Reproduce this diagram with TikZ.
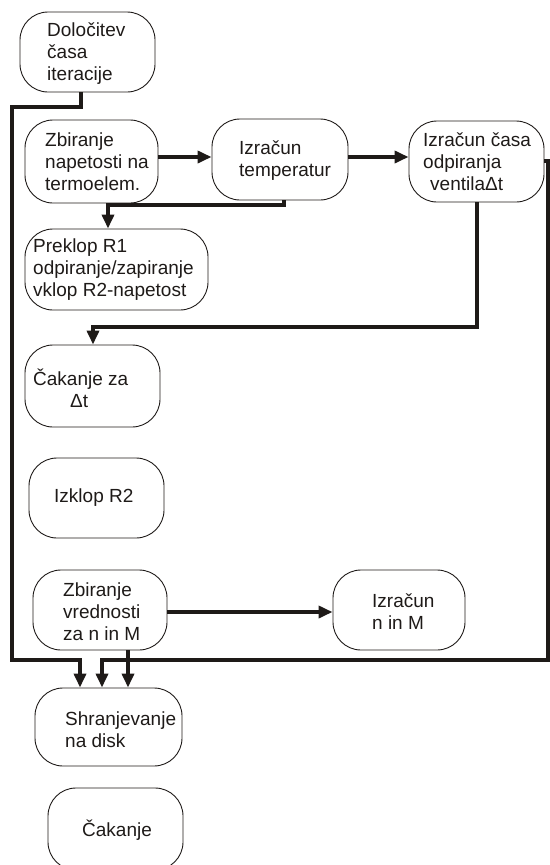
\documentclass[tikz,border=0pt]{standalone}
\usepackage{fontspec}
\setmainfont{Liberation Sans}
\usetikzlibrary{arrows.meta,calc}
\definecolor{ink}{RGB}{30,26,24}
\begin{document}
\begin{tikzpicture}[x=1pt,y=-1pt,
 box/.style={draw=ink, line width=0.9pt, rounded corners=28pt, inner sep=0pt},
 txt/.style={anchor=west, align=left, inner sep=0pt, font=\fontsize{19}{22}\selectfont, text=ink},
 conn/.style={draw=ink, line width=4.8pt},
 arr/.style={conn, -{Triangle[length=14pt,width=12pt]}}]
\useasboundingbox (0,0) rectangle (549,865);
% boxes
\node[box, minimum width=135pt, minimum height=80pt] (b1) at (87.5,52) {};
\node[box, minimum width=133pt, minimum height=83pt] (b2) at (91.5,161.5) {};
\node[box, minimum width=136pt, minimum height=81pt] (b3) at (280,159.5) {};
\node[box, minimum width=135pt, minimum height=81pt] (b4) at (476.5,161.5) {};
\node[box, minimum width=183pt, minimum height=81pt] (b5) at (116.5,269.5) {};
\node[box, minimum width=135pt, minimum height=82pt] (b6) at (92.5,386) {};
\node[box, minimum width=135pt, minimum height=80pt] (b7) at (96.5,498) {};
\node[box, minimum width=134pt, minimum height=80pt] (b8) at (100,610) {};
\node[box, minimum width=132pt, minimum height=80pt] (b9) at (399,610) {};
\node[box, minimum width=147pt, minimum height=78pt] (b10) at (108.5,727) {};
\node[box, minimum width=135pt, minimum height=82pt] (b11) at (115.5,829) {};
% texts
\node[txt] (t1) at (47,54) {Določitev\\časa\\iteracije};
\node[txt] (t2) at (45,162) {Zbiranje\\napetosti na\\termoelem.};
\node[txt] (t3) at (239,161) {Izračun\\temperatur};
\node[txt] (t4) at (423,162) {Izračun časa\\odpiranja\\\hspace*{7pt}ventilaΔt};
\node[txt] (t5) at (33,270) {Preklop R1\\odpiranje/zapiranje\\vklop R2-napetost};
\node[txt] (t6) at (33,388) {Čakanje za\\\hspace*{37pt}Δt};
\node[txt] (t7) at (54,498) {Izklop R2};
\node[txt] (t8) at (63,612) {Zbiranje\\vrednosti\\za n in M};
\node[txt] (t9) at (372,612) {Izračun\\n in M};
\node[txt] (t10) at (65,730) {Shranjevanje\\na disk};
\node[txt] (t11) at (82,830) {Čakanje};
% helper coordinates
\coordinate (yA) at (0,157);
\coordinate (yB) at (0,612);
\coordinate (yR) at (0,161);
\coordinate (cA) at (12,107);
\coordinate (cB) at (12,660);
\coordinate (cC) at (108,205);
\coordinate (cD) at (93,327);
\coordinate (rA) at (548,161);
\coordinate (rB) at (548,660);
% connectors
\draw[arr] ([xshift=-6.5pt]b1.south) |- (cA) -- (cB) -| ([xshift=-28.5pt]b10.north);
\draw[arr] (b2.east |- yA) -- (b3.west |- yA);
\draw[arr] (b3.east |- yA) -- (b4.west |- yA);
\draw[arr] ([xshift=4pt]b3.south) |- (cC) -- ([xshift=-8.5pt]b5.north);
\draw[arr] ([xshift=0.5pt]b4.south) |- (cD) -- ([xshift=0.5pt]b6.north);
\draw[arr] (b4.east |- yR) -- (rA) -- (rB) -| ([xshift=-6.5pt]b10.north);
\draw[arr] ([xshift=28pt]b8.south) -- ([xshift=19.5pt]b10.north);
\draw[arr] (b8.east |- yB) -- (b9.west |- yB);
\end{tikzpicture}
\end{document}
